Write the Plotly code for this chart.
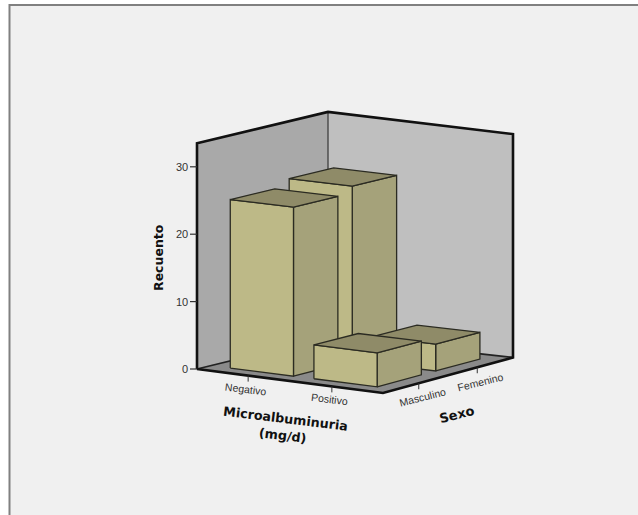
import numpy as np
import plotly.graph_objects as go

# Counts by microalbuminuria result and sex
albumin_levels = ["Negativo", "Positivo"]
sex_levels = ["Masculino", "Femenino"]
count_masculino = [25, 5]
count_femenino = [26, 4]
count_ticks = [0, 10, 20, 30]
z_top = 33.5

# Colours
BAR_FRONT = "#bdb987"
BAR_SIDE = "#a5a27a"
BAR_TOP = "#8f8b68"
WALL_LEFT = "#a9a9a9"
WALL_RIGHT = "#bfbfbf"
FLOOR = "#8a8a8a"
PANEL = "#f0f0f0"
EDGE = "#2b2b22"

# Floor corners of the box on the canvas, in the order (0,0), (1,0), (1,1), (0,1)
corners = np.array([(197, 369), (383, 393), (513, 357.5), (328, 337)], float)
height_per_unit = np.array([6.74, 6.80, 6.67, 6.72])


def project(u, v, z=0.0):
    # Bilinear position on the floor, with the vertical scale varying across it
    weights = np.array([(1 - u) * (1 - v), u * (1 - v), u * v, (1 - u) * v])
    px, py = weights @ corners
    return px, py - z * (weights @ height_per_unit)


def cat_pos(i):
    # Categories sit at 0.275 and 0.725 along each floor edge
    return 0.275 + 0.45 * i


HALF = 0.17
fig = go.Figure()


def polygon(points, fill, line_color=EDGE, line_width=1.3):
    xs, ys = zip(*[project(*p) for p in points])
    fig.add_trace(go.Scatter(x=list(xs) + [xs[0]], y=list(ys) + [ys[0]], mode="lines",
                             fill="toself", fillcolor=fill,
                             line=dict(color=line_color, width=line_width),
                             hoverinfo="skip", showlegend=False))


def polyline(points, color="#111111", width=2.6):
    xs, ys = zip(*[project(*p) for p in points])
    fig.add_trace(go.Scatter(x=list(xs), y=list(ys), mode="lines",
                             line=dict(color=color, width=width),
                             hoverinfo="skip", showlegend=False))


def bar(i, j, value):
    u0, u1 = cat_pos(i) - HALF, cat_pos(i) + HALF
    v0, v1 = cat_pos(j) - HALF, cat_pos(j) + HALF
    polygon([(u1, v0, 0), (u1, v1, 0), (u1, v1, value), (u1, v0, value)], BAR_SIDE)
    polygon([(u0, v0, 0), (u1, v0, 0), (u1, v0, value), (u0, v0, value)], BAR_FRONT)
    polygon([(u0, v0, value), (u1, v0, value), (u1, v1, value), (u0, v1, value)], BAR_TOP)


# Box: floor and the two back walls
polygon([(0, 0, 0), (1, 0, 0), (1, 1, 0), (0, 1, 0)], FLOOR, FLOOR, 0.5)
polygon([(0, 0, 0), (0, 1, 0), (0, 1, z_top), (0, 0, z_top)], WALL_LEFT, WALL_LEFT, 0.5)
polygon([(0, 1, 0), (1, 1, 0), (1, 1, z_top), (0, 1, z_top)], WALL_RIGHT, WALL_RIGHT, 0.5)
polyline([(0, 1, 0), (0, 1, z_top)], "#333333", 1.2)
polyline([(0, 1, 0), (0, 0, 0)], "#222222", 1.8)
polyline([(0, 1, 0), (1, 1, 0)], "#222222", 1.8)

# Bars, back to front
bar(0, 1, count_femenino[0])
bar(1, 1, count_femenino[1])
bar(0, 0, count_masculino[0])
bar(1, 0, count_masculino[1])

# Heavy outline of the box
polyline([(0, 0, 0), (0, 0, z_top), (0, 1, z_top), (1, 1, z_top), (1, 1, 0), (1, 0, 0), (0, 0, 0)])

annotations = []


def label(x, y, text, size, angle=0, color="#333333", family="Liberation Sans", bold=False, xanchor="center"):
    annotations.append(dict(x=x, y=y, xref="x", yref="y", text=f"<b>{text}</b>" if bold else text,
                            showarrow=False, textangle=angle, xanchor=xanchor, yanchor="middle",
                            font=dict(size=size, color=color, family=family)))


# Count axis ticks on the front left wall edge
for t in count_ticks:
    x, y = project(0, 0, t)
    fig.add_trace(go.Scatter(x=[x - 7, x], y=[y, y], mode="lines", line=dict(color="#333333", width=1.2),
                             hoverinfo="skip", showlegend=False))
    label(x - 7, y, str(t), 11, xanchor="right")

# Category ticks and labels along the floor edges
label_offset_a = [(-2, 13), (-2, 13)]
for i, name in enumerate(albumin_levels):
    x, y = project(cat_pos(i), 0)
    fig.add_trace(go.Scatter(x=[x, x], y=[y, y + 6], mode="lines", line=dict(color="#333333", width=1),
                             hoverinfo="skip", showlegend=False))
    dx, dy = label_offset_a[i]
    label(x + dx, y + dy, name, 10.5, 7)

label_offset_s = [(4, 14), (3, 15)]
for j, name in enumerate(sex_levels):
    x, y = project(1, cat_pos(j))
    fig.add_trace(go.Scatter(x=[x, x], y=[y, y + 6], mode="lines", line=dict(color="#333333", width=1),
                             hoverinfo="skip", showlegend=False))
    dx, dy = label_offset_s[j]
    label(x + dx, y + dy, name, 10.5, -14)

# Axis titles
TITLE_FONT = "DejaVu Sans"
label(158, 258, "Recuento", 12.5, -90, "#111111", TITLE_FONT, True)
label(285, 418, "Microalbuminuria", 12.7, 7, "#111111", TITLE_FONT, True)
label(283, 435, "(mg/d)", 12.7, 7, "#111111", TITLE_FONT, True)
label(457, 414, "Sexo", 13, -14, "#111111", TITLE_FONT, True)

fig.update_layout(
    width=638, height=515, margin=dict(l=0, r=0, t=0, b=0),
    paper_bgcolor="white", plot_bgcolor="white",
    xaxis=dict(range=[0, 638], visible=False, fixedrange=True),
    yaxis=dict(range=[515, 0], visible=False, fixedrange=True),
    annotations=annotations,
    shapes=[dict(type="rect", xref="x", yref="y", x0=9.5, y0=5, x1=645, y1=525, layer="below",
                 fillcolor=PANEL, line=dict(color="#808080", width=2))],
)
fig.write_html("out.html", config=dict(displayModeBar=False))
